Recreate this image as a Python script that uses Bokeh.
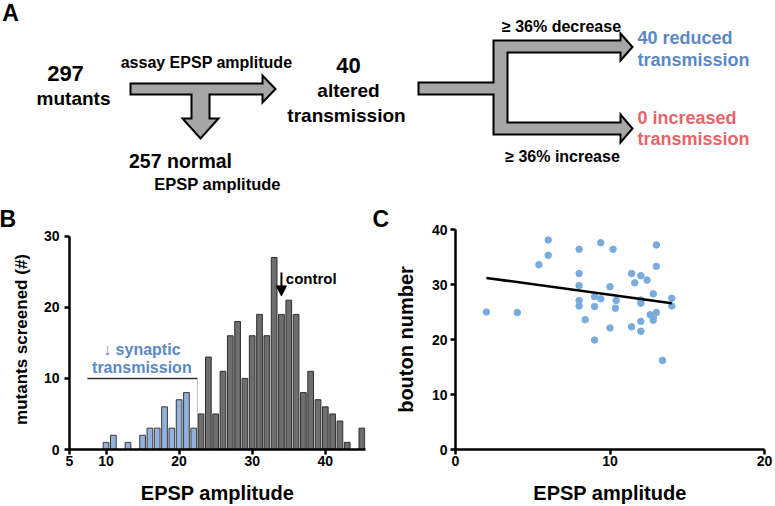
from bokeh.plotting import figure
from bokeh.models import Range1d, FixedTicker, Arrow, NormalHead
from bokeh.layouts import column, row
from bokeh.embed import file_html
from bokeh.resources import INLINE
from bokeh.core.properties import value

FONT = "Liberation Sans"

# ---------------- Panel B data (histogram) ----------------
blue_bins = [10, 11, 13, 15, 16, 17, 18, 19, 20, 21, 22]
blue_counts = [1, 2, 1, 2, 3, 3, 6, 3, 7, 8, 3]
gray_bins = [23, 24, 25, 26, 27, 28, 29, 30, 31, 32, 33, 34, 35, 36, 37, 38, 39, 40, 41, 42, 43, 44, 45]
gray_counts = [5, 13, 5, 11, 16, 18, 10, 16, 19, 16, 27, 19, 21, 19, 8, 11, 7, 6, 5, 4, 1, 0, 3]
b_xticks = [5, 10, 20, 30, 40]
b_yticks = [0, 10, 20, 30]
cutoff_x = 22.5
cutoff_y = 10
control_x = 34

# ---------------- Panel C data (scatter) ----------------
epsp_c = [2, 4, 6, 6, 5.4, 8, 8, 8, 8, 8, 8.4, 9, 9, 9, 9.4, 9.4, 10, 10, 10.2, 10.4,
          10.35, 11.4, 11.6, 12, 12.4, 13, 13, 12.8, 12, 12, 11.4, 12, 12, 12.6, 13, 12.8, 12.8, 14, 14, 13.4]
bouton = [25.0, 24.9, 38.1, 35.3, 33.6, 36.4, 32.0, 29.8, 27.1, 26.1, 23.6, 27.8, 26.0, 19.9, 37.6, 27.4,
          29.6, 22.1, 36.4, 27.1, 25.7, 32.0, 30.3, 31.6, 30.8, 37.2, 33.3, 28.3, 27.2, 26.6, 22.3, 23.3,
          21.5, 24.5, 24.9, 24.0, 23.5, 27.5, 26.1, 16.2]
fit_x = [2, 14]
fit_y = [31.2, 26.6]
c_xticks = [0, 10, 20]
c_yticks = [0, 10, 20, 30, 40]

BLUE_TXT = "#5b88c6"
RED_TXT = "#e9636b"
BAR_BLUE = "#92b2dd"
BAR_GRAY = "#6e6e6e"
DOT = "#78acdd"
ARROW_FILL = "#a6a6a6"

# ---------------- Panel A (flow diagram) ----------------
HA = 199
pa = figure(width=775, height=HA, x_range=Range1d(0, 775), y_range=Range1d(HA, 0),
            x_axis_location=None, y_axis_location=None, min_border=0,
            outline_line_color=None, output_backend="svg", toolbar_location=None)
pa.grid.visible = False

t_arrow_x = [130, 262, 262, 275, 262, 262, 209, 209, 218, 200, 182, 191, 191, 130]
t_arrow_y = [83, 83, 75, 88.5, 102, 94, 94, 118, 118, 138, 118, 118, 94, 94]
pa.patch(t_arrow_x, t_arrow_y, fill_color=ARROW_FILL, line_color="black", line_width=2, line_join="miter")

f_arrow_x = [418, 493, 493, 620, 620, 632, 620, 620, 507, 507, 620, 620, 632, 620, 620, 493, 493, 418]
f_arrow_y = [82, 82, 40, 40, 33, 46.5, 60, 52, 52, 122, 122, 114, 128, 142, 134, 134, 94, 94]
pa.patch(f_arrow_x, f_arrow_y, fill_color=ARROW_FILL, line_color="black", line_width=2, line_join="miter")

def txt(fig, x, y, s, size, color="black", align="center"):
    fig.text(x=[x], y=[y], text=[s], text_font=value(FONT), text_font_style="bold",
             text_font_size=size, text_color=color, text_align=align, text_baseline="middle")

txt(pa, 10, 12, "A", "23px")
txt(pa, 65, 73, "297", "22px")
txt(pa, 73, 98, "mutants", "19px")
txt(pa, 206, 62, "assay EPSP amplitude", "16px")
txt(pa, 348, 65, "40", "22px")
txt(pa, 348, 90, "altered", "19px")
txt(pa, 346, 115, "transmission", "19px")
txt(pa, 180, 160, "257 normal", "19.5px")
txt(pa, 217, 183, "EPSP amplitude", "16.5px")
txt(pa, 561, 26, "\u2265 36% decrease", "16px")
txt(pa, 562, 156, "\u2265 36% increase", "16px")
txt(pa, 637, 37, "40 reduced", "18px", BLUE_TXT, "left")
txt(pa, 637, 59, "transmission", "18px", BLUE_TXT, "left")
txt(pa, 637, 117, "0 increased", "18px", RED_TXT, "left")
txt(pa, 637, 138, "transmission", "18px", RED_TXT, "left")


def style_axes(fig, xlabel, ylabel, xstand, ystand, ysize):
    for ax in (fig.xaxis[0], fig.yaxis[0]):
        ax.axis_line_width = 2.5
        ax.axis_line_color = "black"
        ax.major_tick_line_width = 2.5
        ax.major_tick_line_color = "black"
        ax.major_tick_out = 5
        ax.major_tick_in = 0
        ax.minor_tick_line_color = None
        ax.major_label_text_font = FONT
        ax.major_label_text_font_style = "bold"
        ax.major_label_text_font_size = "14px"
        ax.major_label_text_color = "black"
        ax.axis_label_text_font = FONT
        ax.axis_label_text_font_style = "bold"
        ax.axis_label_text_font_size = "20px"
        ax.axis_label_text_color = "black"
    fig.yaxis[0].axis_label_text_font_size = ysize
    fig.xaxis[0].axis_label = xlabel
    fig.yaxis[0].axis_label = ylabel
    fig.xaxis[0].major_label_standoff = 1
    fig.xaxis[0].axis_label_standoff = xstand
    fig.yaxis[0].axis_label_standoff = ystand
    fig.grid.visible = False
    fig.outline_line_color = None


def letter(fig, s, offset):
    fig.title.text = s
    fig.title.align = "left"
    fig.title.offset = offset
    fig.title.standoff = -5
    fig.title.text_font = FONT
    fig.title.text_font_style = "bold"
    fig.title.text_font_size = "23px"
    fig.title.text_color = "black"


HB = 506 - HA

# ---------------- Panel B ----------------
pb = figure(width=366, height=HB, x_range=Range1d(5, 45.5), y_range=Range1d(0, 30.94),
            min_border_left=69, min_border_right=1, min_border_top=30, min_border_bottom=56,
            output_backend="svg", toolbar_location=None)
style_axes(pb, "EPSP amplitude", "mutants screened (#)", 13, 10, "17px")
letter(pb, "B", -70)
pb.xaxis[0].ticker = FixedTicker(ticks=b_xticks)
pb.yaxis[0].ticker = FixedTicker(ticks=b_yticks)
pb.yaxis[0].bounds = (0, 30)
pb.yaxis[0].major_label_standoff = 5

bx = [b for b, c in zip(blue_bins, blue_counts) if c > 0]
bc = [c for c in blue_counts if c > 0]
gx = [b for b, c in zip(gray_bins, gray_counts) if c > 0]
gc = [c for c in gray_counts if c > 0]
pb.vbar(x=bx, top=bc, width=0.78, fill_color=BAR_BLUE, line_color="#3a3a3a", line_width=1)
pb.vbar(x=gx, top=gc, width=0.78, fill_color=BAR_GRAY, line_color="#2e2e2e", line_width=1)

pb.line(x=[cutoff_x, cutoff_x], y=[0, cutoff_y], line_color="#888888", line_width=1, line_dash="1 1")
pb.line(x=[7.45, cutoff_x], y=[cutoff_y, cutoff_y], line_color="#333333", line_width=1.5)
txt(pb, 14.9, 14.1, "\u2193 synaptic", "16px", BLUE_TXT)
txt(pb, 14.9, 11.6, "transmission", "16px", BLUE_TXT)
pb.add_layout(Arrow(end=NormalHead(size=10, fill_color="black", line_color="black"),
                    x_start=control_x, y_start=24.9, x_end=control_x, y_end=21.6,
                    line_width=2, line_color="black"))
txt(pb, 34.6, 24.1, "control", "15px", "black", "left")

# ---------------- Panel C ----------------
pc = figure(width=775 - 366, height=HB, x_range=Range1d(0, 20), y_range=Range1d(0, 40),
            min_border_left=89, min_border_right=11, min_border_top=30, min_border_bottom=56,
            output_backend="svg", toolbar_location=None)
style_axes(pc, "EPSP amplitude", "bouton number", 13, 12, "20px")
letter(pc, "C", -83)
pc.xaxis[0].ticker = FixedTicker(ticks=c_xticks)
pc.yaxis[0].ticker = FixedTicker(ticks=c_yticks)
pc.yaxis[0].major_label_standoff = 3
pc.scatter(x=epsp_c, y=bouton, size=6.5, fill_color=DOT, line_color=DOT)
pc.line(x=fit_x, y=fit_y, line_color="black", line_width=2.5)

layout = column(pa, row(pb, pc))

open("out.html", "w").write(file_html(layout, INLINE))
